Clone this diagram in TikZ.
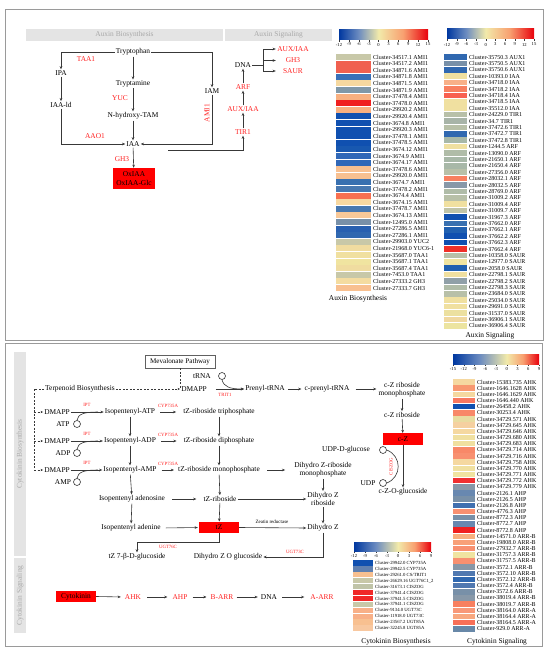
\documentclass[tikz,border=0pt]{standalone}
\usepackage{fontspec}
\setmainfont{Liberation Serif}
\usetikzlibrary{arrows.meta,calc}
\definecolor{pred}{HTML}{FF2020}
\definecolor{boxred}{HTML}{FF0000}
\definecolor{hdrgray}{HTML}{E4E4E4}
\definecolor{hdrtext}{HTML}{A8A8A8}
\definecolor{framegray}{HTML}{9A9A9A}
\definecolor{lnk}{HTML}{383838}
\definecolor{cbblue}{HTML}{0038A0}
\definecolor{cbmblue}{HTML}{6C8CC0}
\definecolor{cbyel}{HTML}{F2EAAA}
\definecolor{cborange}{HTML}{F8A070}
\definecolor{cbred}{HTML}{E8000C}
\pgfdeclarehorizontalshading{cbA}{100bp}{color(0bp)=(cbblue); color(25bp)=(cbblue); color(36bp)=(cbmblue); color(47.2bp)=(cbyel); color(61bp)=(cborange); color(75bp)=(cbred); color(100bp)=(cbred)}
\pgfdeclarehorizontalshading{cbB}{100bp}{color(0bp)=(cbblue); color(25bp)=(cbblue); color(39.3bp)=(cbmblue); color(53.6bp)=(cbyel); color(64.3bp)=(cborange); color(75bp)=(cbred); color(100bp)=(cbred)}
\pgfdeclarehorizontalshading{cbC}{100bp}{color(0bp)=(cbblue); color(25bp)=(cbblue); color(40.6bp)=(cbmblue); color(56.25bp)=(cbyel); color(65.6bp)=(cborange); color(75bp)=(cbred); color(100bp)=(cbred)}
\begin{document}
\begin{tikzpicture}[x=1pt,y=-1pt,
  txt/.style={font=\fontsize{7.4}{8.4}\selectfont, inner sep=1pt, align=center},
  rtxt/.style={txt, text=pred},
  tred/.style={font=\fontsize{4.8}{5}\selectfont, text=pred, inner sep=0.5pt},
  rbox/.style={txt, fill=boxred, minimum height=11.5pt},
  hdr/.style={fill=hdrgray, text=hdrtext, font=\fontsize{7.4}{8}\selectfont, minimum height=12pt, inner sep=0},
  arr/.style={draw=lnk, line width=0.6pt, -{Stealth[length=3.2pt,width=2.6pt]}},
  ln/.style={draw=lnk, line width=0.6pt},
  dsh/.style={draw=lnk, line width=0.6pt, dash pattern=on 2pt off 1.5pt},
  circ/.style={circle, draw=lnk, line width=0.6pt, minimum size=7pt, inner sep=0},
  hl/.style={font=\fontsize{6}{6}\selectfont, anchor=west, inner sep=0},
  hls/.style={font=\fontsize{4.7}{5}\selectfont, anchor=west, inner sep=0},
  tk/.style={font=\fontsize{4.6}{5}\selectfont, inner sep=0},
  captxt/.style={font=\fontsize{7.4}{8}\selectfont, inner sep=0},
  pframe/.style={draw=framegray, line width=0.9pt}
]
\useasboundingbox[fill=white] (0,0) rectangle (550,655);
% frames
\draw[pframe] (5,9) rectangle (543,340);
\draw[pframe] (5,343) rectangle (542,646);

% ===== Auxin pathway =====
\node[hdr, minimum width=197pt] (hb) at (124.5,35) {Auxin Biosynthesis};
\node[hdr, minimum width=107pt] (hs) at (278.5,35) {Auxin Signaling};

\node[txt] (trp) at (133,52) {Tryptophan};
\node[txt] (ipa) at (61,73) {IPA};
\node[txt] (tam) at (133,84) {Tryptamine};
\node[txt] (iald) at (61,105) {IAA-ld};
\node[txt] (nht) at (133,116) {N-hydroxy-TAM};
\node[txt] (iam) at (212,91) {IAM};
\node[txt] (iaa) at (133,144) {IAA};
\node[rbox, minimum width=42pt, minimum height=21pt, font=\fontsize{7.4}{8.6}\selectfont] (ox) at (134,178.5) {OxIAA\\OxIAA-Glc};
\node[rtxt] (taa1) at (86,59) {TAA1};
\node[rtxt] (yuc) at (120,98) {YUC};
\node[rtxt] (aao1) at (95,136) {AAO1};
\node[rtxt] (gh3a) at (122,159) {GH3};
\node[rtxt, rotate=90] (ami1) at (207,113) {AMI1};

\draw[arr] (trp.west) -| (ipa.north);
\draw[arr] (ipa) -- (iald);
\draw[arr] (iald.south) |- (iaa.west);
\draw[arr] (trp) -- (tam);
\draw[arr] (tam) -- (nht);
\draw[arr] (nht) -- (iaa);
\draw[arr] (trp.east) -| (iam.north);
\draw[arr] (iam.south) |- (iaa.east);
\draw[arr] (iaa) -- (ox);

\node[rtxt] (tir1) at (243,132) {TIR1};
\node[rtxt] (auxiaa) at (243,109) {AUX/IAA};
\node[rtxt] (arf) at (243,87) {ARF};
\node[txt] (dna) at (243,65) {DNA};
\node[rtxt, minimum width=34pt] (o1) at (293,49) {AUX/IAA};
\node[rtxt, minimum width=34pt] (o2) at (293,60.5) {GH3};
\node[rtxt, minimum width=34pt] (o3) at (293,71) {SAUR};
\coordinate (iaaout) at (168,150);
\coordinate (br) at (263,65);
\draw[arr] (iaaout) -| (tir1.south);
\draw[arr] (tir1) -- (auxiaa);
\draw[arr] (auxiaa) -- (arf);
\draw[arr] (arf) -- (dna);
\draw[ln] (dna.east) -- (br);
\draw[arr] (br) |- (o1.west);
\draw[arr] (br) |- (o3.west);
\draw[arr] (br |- o2.west) -- (o2.west);

% ===== Heatmap 1 =====
\shade[shading=cbA] (339,30) rectangle (428,40);
\foreach \v [count=\k from 0] in {-12,-9,-6,-3,0,3,6,9,12,15} {
  \draw[lnk, line width=0.3pt] ({339+\k*89/9},40.5) -- ({339+\k*89/9},41.8);
  \node[tk] (ta\k) at ({339+\k*89/9},44.5) {\v};
}
\foreach \c/\t [count=\i] in {
C8C8A8/Cluster-34517.1 AMI1, F06050/Cluster-34517.2 AMI1, F06050/Cluster-34871.6 AMI1,
3870B8/Cluster-34871.8 AMI1, F5D8A0/Cluster-34871.5 AMI1, 8098A8/Cluster-34871.9 AMI1,
F8B080/Cluster-37478.4 AMI1, F02020/Cluster-37478.0 AMI1, F8B080/Cluster-29920.2 AMI1,
1050B0/Cluster-29920.4 AMI1, 1050B0/Cluster-3674.8 AMI1, 1050B0/Cluster-29920.3 AMI1,
1050B0/Cluster-37478.1 AMI1, 1050B0/Cluster-37478.5 AMI1, 1858B0/Cluster-3674.12 AMI1,
3068B8/Cluster-3674.9 AMI1, 3068B8/Cluster-3674.17 AMI1, F8C090/Cluster-37478.6 AMI1,
F8C090/Cluster-29920.0 AMI1, 3870B0/Cluster-3674.7 AMI1, 4878B0/Cluster-37478.2 AMI1,
F87050/Cluster-3674.4 AMI1, F8D8A0/Cluster-3674.15 AMI1, 4878B0/Cluster-37478.7 AMI1,
F8C898/Cluster-3674.13 AMI1, 7890A8/Cluster-12495.0 AMI1, 2860B0/Cluster-27286.5 AMI1,
3068B0/Cluster-27286.1 AMI1, C8C8A8/Cluster-29903.0 YUC2, F0DCA0/Cluster-21968.0 YUC6-1,
F0E0A0/Cluster-35687.0 TAA1, F0E4A0/Cluster-35687.1 TAA1, F0DCA0/Cluster-35687.4 TAA1,
C8C8A8/Cluster-7453.0 TAA1, F4DCA0/Cluster-27333.2 GH3, F8C090/Cluster-27333.7 GH3} {
  \definecolor{hc}{HTML}{\c}
  \fill[hc] (336,{57+(\i-1)*6.6-2.95}) rectangle (371,{57+(\i-1)*6.6+2.95});
  \node[hl] (ha\i) at (373,{57+(\i-1)*6.6}) {\t};
}
\node[captxt] (capa) at (358,299) {Auxin Biosynthesis};

% ===== Heatmap 2 =====
\shade[shading=cbA] (447,29) rectangle (534,39);
\foreach \v [count=\k from 0] in {-12,-9,-6,-3,0,3,6,9,12,15} {
  \draw[lnk, line width=0.3pt] ({447+\k*87/9},39.5) -- ({447+\k*87/9},40.8);
  \node[tk] (tb\k) at ({447+\k*87/9},44.5) {\v};
}
\foreach \c/\t [count=\i] in {
3068B0/Cluster-35750.3 AUX1, 7890A8/Cluster-35750.5 AUX1, 3068B0/Cluster-35750.6 AUX1,
F0E0A0/Cluster-10393.0 IAA, F8B088/Cluster-34718.0 IAA, F88060/Cluster-34718.2 IAA,
F86050/Cluster-34718.4 IAA, F0E0A0/Cluster-34718.5 IAA, F0E0A0/Cluster-35512.0 IAA,
B8C0A8/Cluster-24229.0 TIR1, A8B4A8/Cluster-34.7 TIR1, B8C0A8/Cluster-37472.6 TIR1,
3068B0/Cluster-37472.7 TIR1, A8B8A8/Cluster-37472.8 TIR1, F0E0A0/Cluster-1244.5 ARF,
B0BCA8/Cluster-13090.0 ARF, A8B8A8/Cluster-21650.1 ARF, A8B8A8/Cluster-21650.4 ARF,
B8C0A8/Cluster-27356.0 ARF, F88060/Cluster-28032.1 ARF, 8898A8/Cluster-28032.5 ARF,
B0BCA8/Cluster-28769.0 ARF, B8C0A8/Cluster-31009.2 ARF, F0E0A0/Cluster-31009.4 ARF,
C0C4A8/Cluster-31009.7 ARF, 1050B0/Cluster-31967.3 ARF, 3870B0/Cluster-37662.0 ARF,
2060B0/Cluster-37662.1 ARF, 1050B0/Cluster-37662.2 ARF, 1050B0/Cluster-37662.3 ARF,
F03028/Cluster-37662.4 ARF, B8C0A8/Cluster-10358.0 SAUR, F0E4A0/Cluster-12977.0 SAUR,
2060B0/Cluster-2058.0 SAUR, F0E0A0/Cluster-22798.1 SAUR, 90A0A8/Cluster-22798.2 SAUR,
B0BCA8/Cluster-22798.3 SAUR, B8C0A8/Cluster-23684.0 SAUR, F0E0A0/Cluster-25034.0 SAUR,
F0E0A0/Cluster-29691.0 SAUR, ECE0A0/Cluster-31537.0 SAUR, F0D8A0/Cluster-36906.1 SAUR,
ECE4A0/Cluster-36906.4 SAUR} {
  \definecolor{hc}{HTML}{\c}
  \fill[hc] (444,{57+(\i-1)*6.4-2.85}) rectangle (467,{57+(\i-1)*6.4+2.85});
  \node[hl] (hb\i) at (469,{57+(\i-1)*6.4}) {\t};
}
\node[captxt] (capb) at (490,336) {Auxin Signaling};

% ===== Cytokinin pathway =====
\node[hdr, minimum width=204pt, rotate=90] (sb1) at (20,454) {Cytokinin Biosynthesis};
\node[hdr, minimum width=75pt, rotate=90] (sb2) at (20,595.5) {Cytokinin Signaling};

\node[txt, draw=lnk!80, line width=0.9pt, minimum width=70pt, minimum height=13pt, font=\fontsize{7.1}{8}\selectfont] (mev) at (180,361.5) {Mevalonate Pathway};
\node[txt] (trna) at (202,376) {tRNA};
\node[circ] (ctrna) at (222,376) {};
\node[txt] (dmapp0) at (194,389) {DMAPP};
\node[txt] (terp) at (80,389) {Terpenoid Biosynthesis};
\node[txt] (prenyl) at (265,389) {Prenyl-tRNA};
\node[txt] (cprenyl) at (327,389) {c-prenyl-tRNA};
\node[txt] (czrm) at (402,390) {c-Z riboside\\monophosphate};
\node[txt] (czr) at (402,415) {c-Z riboside};
\node[rbox, minimum width=40pt] (cz) at (403,439) {c-Z};
\node[txt] (czog) at (403,492) {c-Z-O-glucoside};
\node[txt] (udpg) at (346,450) {UDP-D-glucose};
\node[circ] (cudpg) at (383,450) {};
\node[txt] (udp) at (368,483) {UDP};
\node[circ] (cudp) at (383,483) {};
\node[tred] (trit1) at (225,394.5) {TRIT1};
\node[tred, rotate=90] (ciszog) at (391,466.5) {CISZOG};

\node[txt] (dm1) at (57,412) {DMAPP};
\node[txt] (dm2) at (57,441) {DMAPP};
\node[txt] (dm3) at (57,470) {DMAPP};
\node[txt] (atp) at (63,424) {ATP};
\node[circ] (catp) at (77,424) {};
\node[txt] (adp) at (63,453) {ADP};
\node[circ] (cadp) at (77,453) {};
\node[txt] (amp) at (63,482) {AMP};
\node[circ] (camp) at (77,482) {};
\node[tred] (ipt1) at (87,405) {IPT};
\node[tred] (ipt2) at (87,434) {IPT};
\node[tred] (ipt3) at (87,463) {IPT};
\node[txt] (ia1) at (130,412) {Isopentenyl-ATP};
\node[txt] (ia2) at (130,441) {Isopentenyl-ADP};
\node[txt] (ia3) at (130,470) {Isopentenyl-AMP};
\node[tred] (cyp1) at (168,406) {CYP735A};
\node[tred] (cyp2) at (168,434.5) {CYP735A};
\node[tred] (cyp3) at (168,463.5) {CYP735A};
\node[txt] (tz1) at (219,412) {tZ-riboside triphosphate};
\node[txt] (tz2) at (219,441) {tZ-riboside diphosphate};
\node[txt] (tz3) at (219,470) {tZ-riboside monophosphate};
\node[txt] (iad) at (132,499) {Isopentenyl adenosine};
\node[txt] (tzr) at (220,499) {tZ-riboside};
\node[txt] (iade) at (131,528) {Isopentenyl adenine};
\node[rbox, minimum width=40pt] (tz) at (219,527.5) {tZ};
\node[txt] (dzrm) at (323,470) {Dihydro Z-riboside\\monophosphate};
\node[txt] (dzr) at (323,499) {Dihydro Z\\riboside};
\node[txt] (dz) at (323,528) {Dihydro Z};
\node[txt] (tz7) at (137,557) {tZ 7-β-D-glucoside};
\node[txt] (dzog) at (228,557) {Dihydro Z O glucoside};
\node[font=\fontsize{5}{5}\selectfont, inner sep=0] (zr) at (272,522) {Zeatin reductase};
\node[tred] (ugt76) at (168,547) {UGT76C};
\node[tred] (ugt73) at (295,551.5) {UGT73C};

% dashed links
\coordinate (tl) at (34,389);
\draw[dsh] (terp.west) -- (tl) -- (tl |- dm3.west);
\draw[dsh, -{Stealth[length=2.5pt,width=2.2pt]}] (tl |- dm1.west) -- (dm1.west);
\draw[dsh, -{Stealth[length=2.5pt,width=2.2pt]}] (tl |- dm2.west) -- (dm2.west);
\draw[dsh, -{Stealth[length=2.5pt,width=2.2pt]}] (tl |- dm3.west) -- (dm3.west);
\draw[dsh, -{Stealth[length=2.5pt,width=2.2pt]}] (terp.east) -- (dmapp0.west);
\draw[dsh] (mev.south) -- (mev.south |- dmapp0.west);

% tRNA branch
\draw[arr, shorten <=8pt] (dmapp0.east) -- (prenyl.west);
\draw[arr] (ctrna.south) .. controls (224,387) and (230,389) .. (prenyl.west);
\draw[arr, shorten <=2pt, shorten >=2pt] (prenyl.east) -- (cprenyl.west);
\draw[arr, shorten <=5pt, shorten >=1pt] (cprenyl.east) -- (cprenyl.east -| czrm.west);
\draw[arr] (czrm) -- (czr);
\draw[arr] (czr) -- (cz);
\draw[arr] (cz) -- (czog);
\draw[ln] (cudpg.east) .. controls (402,456) and (402,477) .. (cudp.east);

% IPT steps
\draw[arr] (dm1.east) -- (ia1.west);
\draw[ln] (catp.north) .. controls (78,414) and (84,412) .. (98,412);
\draw[arr] (dm2.east) -- (ia2.west);
\draw[ln] (cadp.north) .. controls (78,443) and (84,441) .. (98,441);
\draw[arr] (dm3.east) -- (ia3.west);
\draw[ln] (camp.north) .. controls (78,472) and (84,470) .. (98,470);
\draw[arr, shorten <=4pt, shorten >=6pt] (ia1.east) -- (tz1.west);
\draw[arr, shorten <=4pt, shorten >=6pt] (ia2.east) -- (tz2.west);
\draw[arr, shorten <=4pt, shorten >=3pt] (ia3.east) -- (tz3.west);
\draw[arr] (ia1) -- (ia2);
\draw[arr] (ia2) -- (ia3);
\draw[arr] (ia3) -- (iad);
\draw[arr] (iad) -- (iade);
\draw[arr] (tz1) -- (tz2);
\draw[arr] (tz2) -- (tz3);
\draw[arr] (tz3) -- (tzr);
\draw[arr] (tzr) -- (tz);
\draw[arr, shorten <=6pt, shorten >=6pt] (iad.east) -- (tzr.west);
\draw[arr, shorten <=4pt, shorten >=1pt] (iade.east) -- (tz.west);
\draw[arr, shorten <=6pt, shorten >=8pt] (tz3.east) -- (dzrm.west);
\draw[arr] (dzrm) -- (dzr);
\draw[arr] (tzr.east) -- (tzr.east -| dzr.west);
\draw[arr] (tz.east) -- (dz.west);
\draw[arr] (dzr) -- (dz);
\draw[arr] (dz.south) |- (dzog.east);
\draw[arr] (tz.south) -- ++(0,9) -| (tz7.north);

% signaling
\node[rbox, minimum width=40pt] (ck) at (76,596.5) {Cytokinin};
\node[rtxt] (ahk) at (133,597) {AHK};
\node[rtxt] (ahp) at (180,597) {AHP};
\node[rtxt] (barr) at (222,597) {B-ARR};
\node[txt] (dna2) at (269,597) {DNA};
\node[rtxt] (aarr) at (322,597) {A-ARR};
\draw[arr, shorten >=3pt] (ck.east) -- (ahk.west);
\draw[arr, shorten <=5pt, shorten >=4pt] (ahk.east) -- (ahp.west);
\draw[arr, shorten <=4pt, shorten >=3pt] (ahp.east) -- (barr.west);
\draw[arr, shorten <=2pt, shorten >=2pt] (barr.east) -- (dna2.west);
\draw[arr, shorten <=4pt, shorten >=5pt] (dna2.east) -- (aarr.west);

% ===== Heatmap 3 =====
\shade[shading=cbB] (354,542) rectangle (431,551);
\foreach \v [count=\k from 0] in {-12,-9,-6,-3,0,3,6,9} {
  \draw[lnk, line width=0.3pt] ({354+\k*77/7},551.5) -- ({354+\k*77/7},552.8);
  \node[tk] (tc\k) at ({354+\k*77/7},556) {\v};
}
\foreach \c/\t [count=\i] in {
1050B0/Cluster-29942.0 CYP735A, 6080B0/Cluster-29942.5 CYP735A, F8C090/{Cluster-29261.0 CS/TRIT1},
C8C8A8/Cluster-26629.16 UGT76C1\_2, C0C4A8/Cluster-31673.1 CISZOG, F02828/Cluster-37941.4 CISZOG,
F02828/Cluster-37941.5 CISZOG, C8C8A8/Cluster-37941.1 CISZOG, F8B088/Cluster-9134.0 UGT73C,
F8B088/Cluster-11918.0 UGT73C, F8C090/Cluster-23567.2 UGT85A, F8C8A0/Cluster-32245.8 UGT85A} {
  \definecolor{hc}{HTML}{\c}
  \fill[hc] (353,{563+(\i-1)*5.9-2.6}) rectangle (373,{563+(\i-1)*5.9+2.6});
  \node[hls] (hc\i) at (375,{563+(\i-1)*5.9}) {\t};
}
\node[captxt] (capc) at (396,642) {Cytokinin Biosynthesis};

% ===== Heatmap 4 =====
\shade[shading=cbC] (453,354) rectangle (539,364);
\foreach \v [count=\k from 0] in {-15,-12,-9,-6,-3,0,3,6,9} {
  \draw[lnk, line width=0.3pt] ({453+\k*86/8},364.5) -- ({453+\k*86/8},365.8);
  \node[tk] (td\k) at ({453+\k*86/8},369) {\v};
}
\foreach \c/\t [count=\i] in {
F5D8A0/Cluster-15383.735 AHK, F89870/Cluster-1646.1628 AHK, F5D8A0/Cluster-1646.1629 AHK,
F87860/Cluster-1646.440 AHK, 1050B0/Cluster-26458.2 AHK, F88868/Cluster-30253.4 AHK,
E8DCA0/Cluster-34729.571 AHK, F5D0A0/Cluster-34729.645 AHK, F5D8A0/Cluster-34729.646 AHK,
F0E0A0/Cluster-34729.680 AHK, F0E0A0/Cluster-34729.683 AHK, F88868/Cluster-34729.714 AHK,
F89070/Cluster-34729.716 AHK, F5D8A0/Cluster-34729.758 AHK, F0E0A0/Cluster-34729.770 AHK,
F0E4A0/Cluster-34729.771 AHK, F03030/Cluster-34729.772 AHK, 8898A8/Cluster-34729.779 AHK,
6888B0/Cluster-2126.1 AHP, 7890A8/Cluster-2126.5 AHP, 4070B0/Cluster-2126.8 AHP,
F89070/Cluster-4776.3 AHP, 7890A8/Cluster-8772.3 AHP, 6888B0/Cluster-8772.7 AHP,
F02020/Cluster-8772.8 AHP, F8B080/Cluster-14571.0 ARR-B, F8A078/Cluster-19808.0 ARR-B,
F89070/Cluster-27932.7 ARR-B, F0E4A0/Cluster-31757.3 ARR-B, F89070/Cluster-31757.5 ARR-B,
8898A8/Cluster-3572.1 ARR-B, 5078B0/Cluster-3572.10 ARR-B, 3068B0/Cluster-3572.12 ARR-B,
5078B0/Cluster-3572.4 ARR-B, 7890A8/Cluster-3572.6 ARR-B, 8898A8/Cluster-38019.4 ARR-B,
F88060/Cluster-38019.7 ARR-B, F89878/Cluster-38164.0 ARR-A, F8A880/Cluster-38164.4 ARR-A,
F87058/Cluster-38164.5 ARR-A, 6888A8/Cluster-929.0 ARR-A} {
  \definecolor{hc}{HTML}{\c}
  \fill[hc] (453,{382+(\i-1)*6.17-2.75}) rectangle (475,{382+(\i-1)*6.17+2.75});
  \node[hl] (hd\i) at (477,{382+(\i-1)*6.17}) {\t};
}
\node[captxt] (capd) at (497,642) {Cytokinin Signaling};
\end{tikzpicture}
\end{document}
